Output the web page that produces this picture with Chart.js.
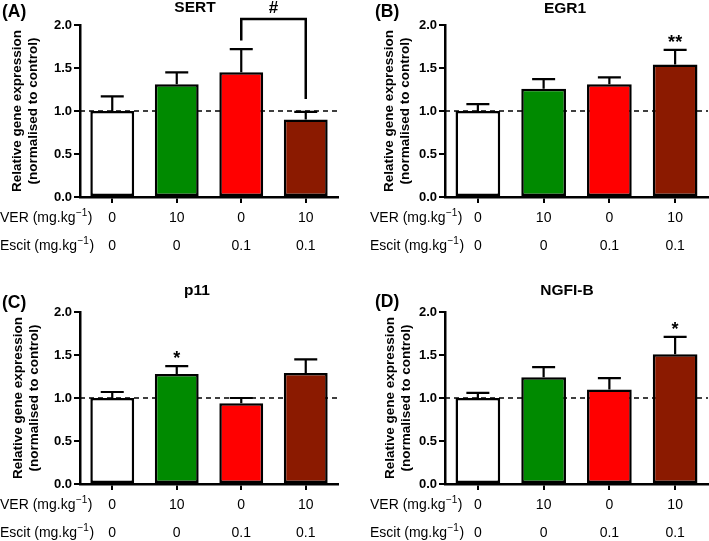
<!DOCTYPE html>
<html>
<head>
<meta charset="utf-8">
<script src="https://cdn.jsdelivr.net/npm/chart.js@4.4.0/dist/chart.umd.min.js"></script>
<style>
  body { margin: 0; background: #fff; width: 709px; height: 541px; position: relative; overflow: hidden; }
  canvas { position: absolute; }
</style>
</head>
<body>
<canvas id="cA" width="355" height="270" style="left:0;top:0"></canvas>
<canvas id="cB" width="354" height="270" style="left:355px;top:0"></canvas>
<canvas id="cC" width="355" height="271" style="left:0;top:270px"></canvas>
<canvas id="cD" width="354" height="271" style="left:355px;top:270px"></canvas>
<script>
// DATI
const ver = ['0', '10', '0', '10'];
const escit = ['0', '0', '0.1', '0.1'];
const colori = ['#ffffff', '#008a00', '#ff0000', '#8b1a00'];
const yTicks = [0, 0.5, 1.0, 1.5, 2.0];

const sertMedia = [1.00, 1.31, 1.45, 0.90];
const sertSem = [0.17, 0.14, 0.27, 0.09];

const egr1Media = [1.00, 1.26, 1.31, 1.54];
const egr1Sem = [0.08, 0.11, 0.08, 0.17];
const egr1Sig = ['', '', '', '**'];

const p11Media = [1.00, 1.28, 0.94, 1.29];
const p11Sem = [0.07, 0.09, 0.06, 0.16];
const p11Sig = ['', '*', '', ''];

const ngfibMedia = [1.00, 1.24, 1.10, 1.51];
const ngfibSem = [0.06, 0.12, 0.13, 0.20];
const ngfibSig = ['', '', '', '*'];

// confronto # tra VER 0/Escit 0.1 e VER 10/Escit 0.1 (SERT)
const sertConfronto = { da: 2, a: 3, alto: 2.07, gambaSx: 1.82, gambaDx: 1.14, testo: '#' };

const FONT = '"Liberation Sans", Arial, sans-serif';

//disegno della riga "VER (mg.kg-1)" con esponente
function etichettaRiga(ctx, x, y, nome) {
  ctx.textBaseline = 'middle';
  ctx.textAlign = 'left';
  ctx.fillStyle = '#000';
  ctx.font = '14px ' + FONT;
  const t = nome + ' (mg.kg';
  ctx.fillText(t, x, y);
  let w = ctx.measureText(t).width;
  ctx.font = '10px ' + FONT;
  ctx.fillText('\u22121', x + w + 0.5, y - 5);
  w += ctx.measureText('\u22121').width + 1;
  ctx.font = '14px ' + FONT;
  ctx.fillText(')', x + w, y);
}

function creaPlugin(p) {
  return {
    id: 'extra',
    beforeDatasetsDraw(chart) {
      const { ctx, chartArea, scales: { y } } = chart;
      const yy = y.getPixelForValue(1);
      ctx.save();
      ctx.setLineDash([5, 4]);
      ctx.lineWidth = 1.5;
      ctx.strokeStyle = '#000';
      ctx.beginPath();
      ctx.moveTo(chartArea.left, yy);
      ctx.lineTo(chartArea.right, yy);
      ctx.stroke();
      ctx.restore();
    },
    afterDatasetsDraw(chart) {
      const { ctx, scales: { y } } = chart;
      const barre = chart.getDatasetMeta(0).data;
      ctx.save();
      ctx.strokeStyle = '#000';
      ctx.lineWidth = 2.2;
      barre.forEach((b, i) => {
        const top = y.getPixelForValue(p.media[i]);
        const errY = y.getPixelForValue(p.media[i] + p.sem[i]);
        ctx.beginPath();
        ctx.moveTo(b.x, top);
        ctx.lineTo(b.x, errY);
        ctx.moveTo(b.x - 11.5, errY);
        ctx.lineTo(b.x + 11.5, errY);
        ctx.stroke();
        if (p.sig && p.sig[i]) {
          ctx.fillStyle = '#000';
          ctx.font = 'bold 18px ' + FONT;
          ctx.textAlign = 'center';
          ctx.textBaseline = 'middle';
          ctx.fillText(p.sig[i], b.x, y.getPixelForValue(p.media[i] + p.sem[i] + 0.13) + 4);
        }
      });
      ctx.restore();
    },
    afterDraw(chart) {
      const { ctx, scales: { x, y } } = chart;
      ctx.save();
      ctx.fillStyle = '#000';
      ctx.textBaseline = 'middle';
      ctx.font = 'bold 15.5px ' + FONT;
      ctx.textAlign = 'center';
      ctx.fillText(p.titolo, p.titoloX, p.titoloY);
      ctx.font = 'bold 17.5px ' + FONT;
      ctx.textAlign = 'left';
      ctx.fillText(p.lettera, p.letteraX, p.letteraY);
      // righe della tabella sotto l'asse
      etichettaRiga(ctx, p.rigaX, y.bottom + 21, 'VER');
      etichettaRiga(ctx, p.rigaX, y.bottom + 49, 'Escit');
      // parentesi di confronto
      if (p.confronto) {
        const c = p.confronto;
        const x1 = x.getPixelForValue(c.da), x2 = x.getPixelForValue(c.a);
        const yt = y.getPixelForValue(c.alto);
        ctx.strokeStyle = '#000';
        ctx.lineWidth = 2.5;
        ctx.beginPath();
        ctx.moveTo(x1, y.getPixelForValue(c.gambaSx));
        ctx.lineTo(x1, yt);
        ctx.lineTo(x2, yt);
        ctx.lineTo(x2, y.getPixelForValue(c.gambaDx));
        ctx.stroke();
        ctx.font = 'bold 17px ' + FONT;
        ctx.textAlign = 'center';
        ctx.fillText(c.testo, (x1 + x2) / 2, yt - 11);
      }
      ctx.restore();
    }
  };
}

function creaPannello(id, p) {
  const c = document.getElementById(id);
  const W = c.width, H = c.height;
  new Chart(c, {
    type: 'bar',
    data: {
      labels: ver.map((v, i) => [v, escit[i]]),
      datasets: [{
        data: p.media,
        backgroundColor: colori,
        borderColor: '#000',
        borderWidth: 2.5,
        borderSkipped: false,
        barPercentage: 0.68,
        categoryPercentage: 1
      }]
    },
    options: {
      responsive: false,
      animation: false,
      layout: { padding: { left: 0, top: p.area[1], right: W - p.area[2], bottom: 0 } },
      plugins: { legend: { display: false }, tooltip: { enabled: false } },
      scales: {
        x: {
          afterFit: s => { s.height = H - p.area[3]; },
          grid: { drawOnChartArea: false, drawTicks: true, tickLength: 6, offset: false, color: '#000', lineWidth: 2 },
          border: { display: true, color: '#000', width: 2.5 },
          ticks: { color: '#000', padding: 1, font: { family: FONT, size: 14, lineHeight: 2 }, maxRotation: 0 }
        },
        y: {
          min: 0,
          max: 2,
          afterFit: s => { s.width = p.area[0]; },
          afterBuildTicks: s => { s.ticks = yTicks.map(v => ({ value: v })); },
          grid: { drawOnChartArea: false, drawTicks: true, tickLength: 6, color: '#000', lineWidth: 2 },
          border: { display: true, color: '#000', width: 2.5 },
          ticks: { color: '#000', padding: 2, font: { family: FONT, size: 13, weight: 'bold' }, callback: v => v.toFixed(1) },
          title: {
            display: true,
            text: ['Relative gene expression', '(normalised to control)'],
            color: '#000',
            font: { family: FONT, size: 13.5, weight: 'bold', lineHeight: 1.2 },
            padding: { top: p.titoloYpad, bottom: 0 }
          }
        }
      }
    },
    plugins: [creaPlugin(p)]
  });
}

creaPannello('cA', {
  media: sertMedia, sem: sertSem, confronto: sertConfronto,
  titolo: 'SERT', titoloX: 195, titoloY: 8, lettera: '(A)', letteraX: 2, letteraY: 12,
  area: [80, 25, 338, 197], titoloYpad: 9, rigaX: 0
});
creaPannello('cB', {
  media: egr1Media, sem: egr1Sem, sig: egr1Sig,
  titolo: 'EGR1', titoloX: 210, titoloY: 9, lettera: '(B)', letteraX: 20, letteraY: 12,
  area: [90, 25, 353, 197], titoloYpad: 26, rigaX: 15
});
creaPannello('cC', {
  media: p11Media, sem: p11Sem, sig: p11Sig,
  titolo: 'p11', titoloX: 197, titoloY: 21, lettera: '(C)', letteraX: 2, letteraY: 33,
  area: [80, 42, 338, 214], titoloYpad: 10, rigaX: 0
});
creaPannello('cD', {
  media: ngfibMedia, sem: ngfibSem, sig: ngfibSig,
  titolo: 'NGFI-B', titoloX: 212, titoloY: 21, lettera: '(D)', letteraX: 20, letteraY: 32,
  area: [90, 42, 353, 214], titoloYpad: 27, rigaX: 15
});
</script>
</body>
</html>
